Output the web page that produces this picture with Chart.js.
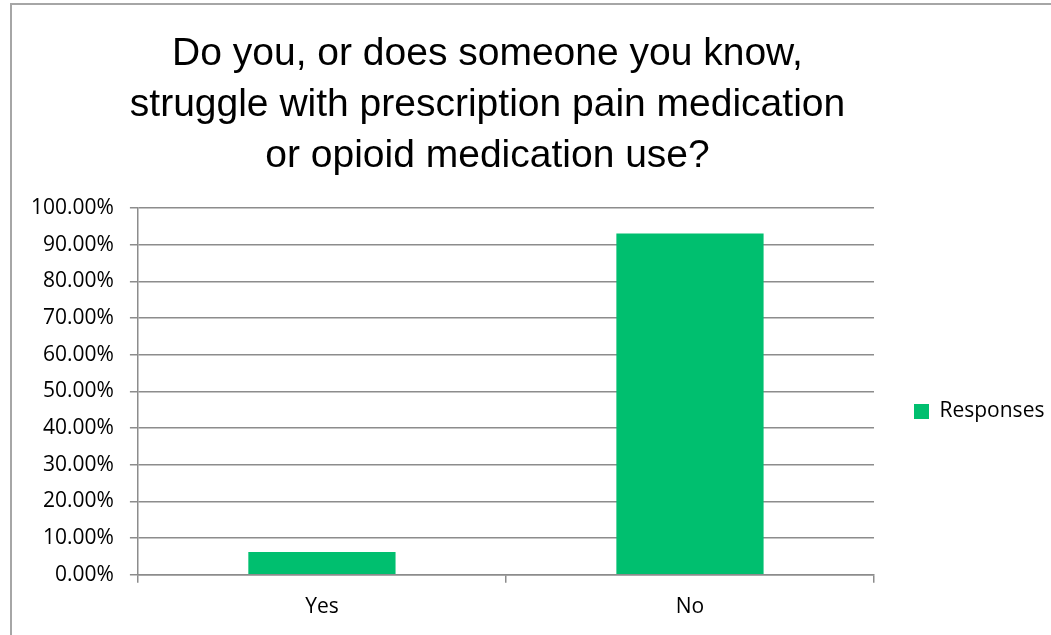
<!DOCTYPE html>
<html>
<head>
<meta charset="utf-8">
<script src="https://cdn.jsdelivr.net/npm/chart.js@4/dist/chart.umd.min.js"></script>
<style>
  html, body { margin: 0; padding: 0; background: #fff; }
  .frame { position: absolute; left: 10px; top: 3px; width: 1100px; height: 700px;
           border-top: 2px solid #a6a6a6; border-left: 2px solid #a6a6a6; }
  .wrap { position: absolute; left: 0; top: 0; width: 1051px; height: 635px; }
</style>
</head>
<body>
<div class="frame"></div>
<div class="wrap"><canvas id="chart1"></canvas></div>
<script>
// data
const categories = ['Yes', 'No'];
const responses = [6.2, 93.1];
const seriesName = 'Responses';
const titleLines = ['Do you, or does someone you know,', 'struggle with prescription pain medication', 'or opioid medication use?'];

const gridGrey = '#8c8c8c';

// nudge title / legend to where the original sits
const placeBoxes = {
    id: 'placeBoxes',
    afterLayout(chart) {
        const t = chart.titleBlock;
        t.left = 10;
        t.right = 965;
        const l = chart.legend;
        l.top += 92;
        l.bottom += 92;
    }
};

const ctx = document.getElementById('chart1');
const chart1 = new Chart(ctx, {
    type: 'bar',
    data: {
        labels: categories,
        datasets: [{
            label: seriesName,
            data: responses,
            backgroundColor: '#00bf6f',
            borderWidth: 0,
            barPercentage: 0.4,
            categoryPercentage: 1
        }]
    },
    options: {
        responsive: true,
        maintainAspectRatio: false,
        animation: false,
        layout: {
            padding: { left: 15, right: 0, top: 7, bottom: 3 }
        },
        plugins: {
            title: {
                display: true,
                text: titleLines,
                color: '#000',
                font: { family: "'Liberation Sans', Arial, sans-serif", size: 39, weight: 'normal', lineHeight: 1.3 },
                padding: { top: 22, bottom: 27 }
            },
            legend: {
                position: 'right',
                maxWidth: 177,
                labels: {
                    boxWidth: 15,
                    boxHeight: 15,
                    padding: 40,
                    color: '#000',
                    font: { family: "'Open Sans', sans-serif", size: 21 }
                }
            },
            tooltip: { enabled: false }
        },
        scales: {
            x: {
                offset: true,
                grid: {
                    offset: true,
                    drawOnChartArea: false,
                    drawTicks: true,
                    tickLength: 8,
                    color: gridGrey,
                    lineWidth: 1.5
                },
                border: { color: gridGrey, width: 1.5 },
                ticks: {
                    color: '#000',
                    padding: 12,
                    font: { family: "'Open Sans', sans-serif", size: 21 }
                }
            },
            y: {
                min: 0,
                max: 100,
                grid: {
                    color: gridGrey,
                    lineWidth: 1.5,
                    tickLength: 8
                },
                border: { color: gridGrey, width: 1.5 },
                ticks: {
                    stepSize: 10,
                    color: '#000',
                    padding: 16,
                    font: { family: "'Open Sans', sans-serif", size: 21 },
                    callback: v => v.toFixed(2) + '%'
                }
            }
        }
    },
    plugins: [placeBoxes]
});
</script>
</body>
</html>
